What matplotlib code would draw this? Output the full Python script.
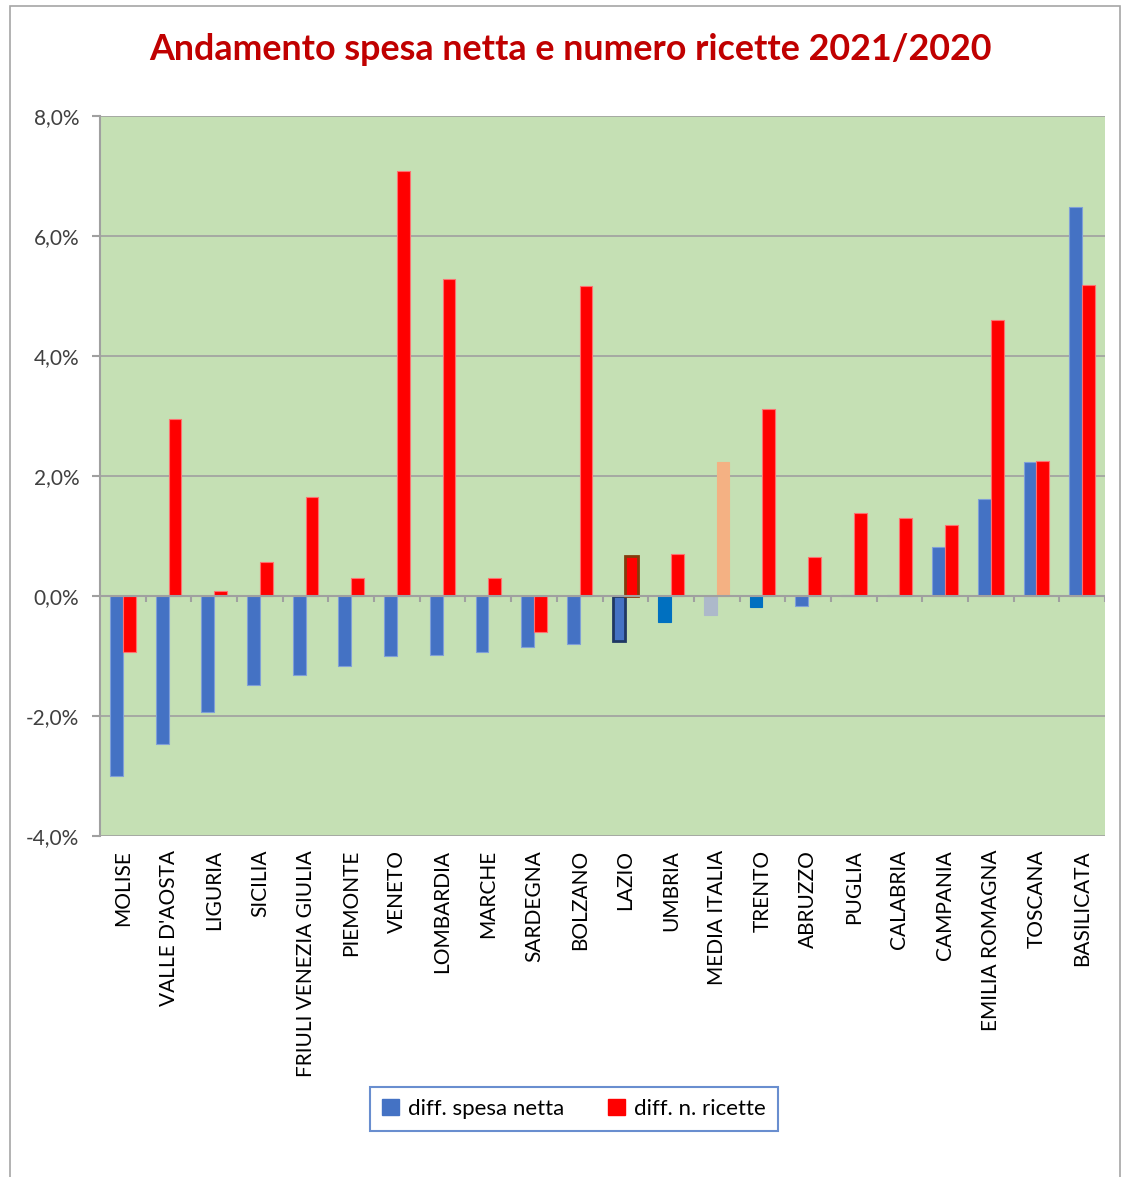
import matplotlib
matplotlib.use("Agg")
import matplotlib.pyplot as plt
from matplotlib.patches import Rectangle, Patch
from matplotlib.ticker import FuncFormatter, MultipleLocator

regions = ["MOLISE", "VALLE D'AOSTA", "LIGURIA", "SICILIA", "FRIULI VENEZIA GIULIA",
           "PIEMONTE", "VENETO", "LOMBARDIA", "MARCHE", "SARDEGNA", "BOLZANO", "LAZIO",
           "UMBRIA", "MEDIA ITALIA", "TRENTO", "ABRUZZO", "PUGLIA", "CALABRIA",
           "CAMPANIA", "EMILIA ROMAGNA", "TOSCANA", "BASILICATA"]
diff_spesa = [-3.00, -2.47, -1.93, -1.48, -1.32, -1.17, -1.00, -0.98, -0.93, -0.85,
              -0.80, -0.75, -0.43, -0.32, -0.18, -0.17, 0.02, 0.02, 0.82, 1.62, 2.23, 6.48]
diff_ricette = [-0.93, 2.95, 0.08, 0.57, 1.65, 0.30, 7.08, 5.28, 0.30, -0.60,
                5.17, 0.67, 0.70, 2.23, 3.12, 0.65, 1.38, 1.30, 1.18, 4.60, 2.25, 5.18]
series_names = ["diff. spesa netta", "diff. n. ricette"]

BLUE = "#4472C4"
RED = "#FF0000"
blue_colors = [BLUE] * len(regions)
red_colors = [RED] * len(regions)
blue_edges = ["#7F9FD8"] * len(regions)
red_edges = ["#FF7070"] * len(regions)
blue_lw = [0.8] * len(regions)
red_lw = [0.8] * len(regions)
i_lazio = regions.index("LAZIO")
blue_edges[i_lazio] = "#1F3864"; blue_lw[i_lazio] = 2.0
red_edges[i_lazio] = "#843C0C"; red_lw[i_lazio] = 2.0
blue_colors[regions.index("UMBRIA")] = "#0070C0"
blue_edges[regions.index("UMBRIA")] = "#0070C0"
blue_colors[regions.index("TRENTO")] = "#0070C0"
blue_edges[regions.index("TRENTO")] = "#0070C0"
i_media = regions.index("MEDIA ITALIA")
blue_colors[i_media] = "#ADB9CA"; blue_edges[i_media] = "#ADB9CA"
red_colors[i_media] = "#F4B183"; red_edges[i_media] = "#F4B183"

fig = plt.figure(figsize=(11.23, 11.77), dpi=100)
ax = fig.add_axes([100/1123, 1 - 836/1177, 1005/1123, 720/1177])
ax.set_facecolor("#C5E0B4")

x = list(range(len(regions)))
w = 0.28
ax.bar([i - w/2 for i in x], diff_spesa, width=w, color=blue_colors,
       edgecolor=blue_edges, linewidth=blue_lw, zorder=3)
ax.bar([i + w/2 for i in x], diff_ricette, width=w, color=red_colors,
       edgecolor=red_edges, linewidth=red_lw, zorder=3)

ax.set_xlim(-0.5, len(regions) - 0.5)
ax.set_ylim(-4, 8)
ax.yaxis.set_major_locator(MultipleLocator(2))
ax.yaxis.set_major_formatter(FuncFormatter(lambda v, p: f"{v:.1f}%".replace(".", ",")))
ax.grid(axis="y", color="#A0A0A0", linewidth=1.2, zorder=1)
ax.axhline(0, color="#A0A0A0", linewidth=1.5, zorder=4)
ax.vlines([i + 0.5 for i in x], -0.1, 0, color="#A0A0A0", linewidth=1.5, zorder=4)

for s in ["top", "right", "bottom"]:
    ax.spines[s].set_visible(False)
ax.spines["left"].set_color("#A0A0A0")
ax.spines["left"].set_linewidth(1.5)

ax.set_xticks(x)
ax.set_xticklabels(regions, rotation=90, fontsize=15, family="Lato", color="black")
ax.tick_params(axis="x", length=0, pad=10)
ax.tick_params(axis="y", length=6, color="#A0A0A0", width=1.5, labelsize=15, pad=9)
for lab in ax.get_yticklabels():
    lab.set_family("Lato")
    lab.set_color("#404040")

fig.text(570/1123, 1 - 49/1177, "Andamento spesa netta e numero ricette 2021/2020",
         ha="center", va="center", fontsize=25.8, fontweight="bold", color="#C00000", family="Lato")

handles = [Patch(facecolor=BLUE, edgecolor=BLUE), Patch(facecolor=RED, edgecolor=RED)]
leg = fig.legend(handles, series_names, loc="center", bbox_to_anchor=(574/1123, 1 - 1109/1177),
                 ncol=2, frameon=True, fancybox=False, handlelength=0.75,
                 handleheight=0.75, columnspacing=2.0, handletextpad=0.4, borderpad=0.55,
                 borderaxespad=0, prop={"family": "Lato", "size": 16})
leg.get_frame().set_edgecolor("#4472C4")
leg.get_frame().set_linewidth(1.5)

fig.patches.append(Rectangle((10/1123, -0.01), 1110/1123, 1 - 6/1177 + 0.01,
                             transform=fig.transFigure, fill=False,
                             edgecolor="#A6A6A6", linewidth=1.2))

fig.savefig("out.png", dpi=100, facecolor="white")
